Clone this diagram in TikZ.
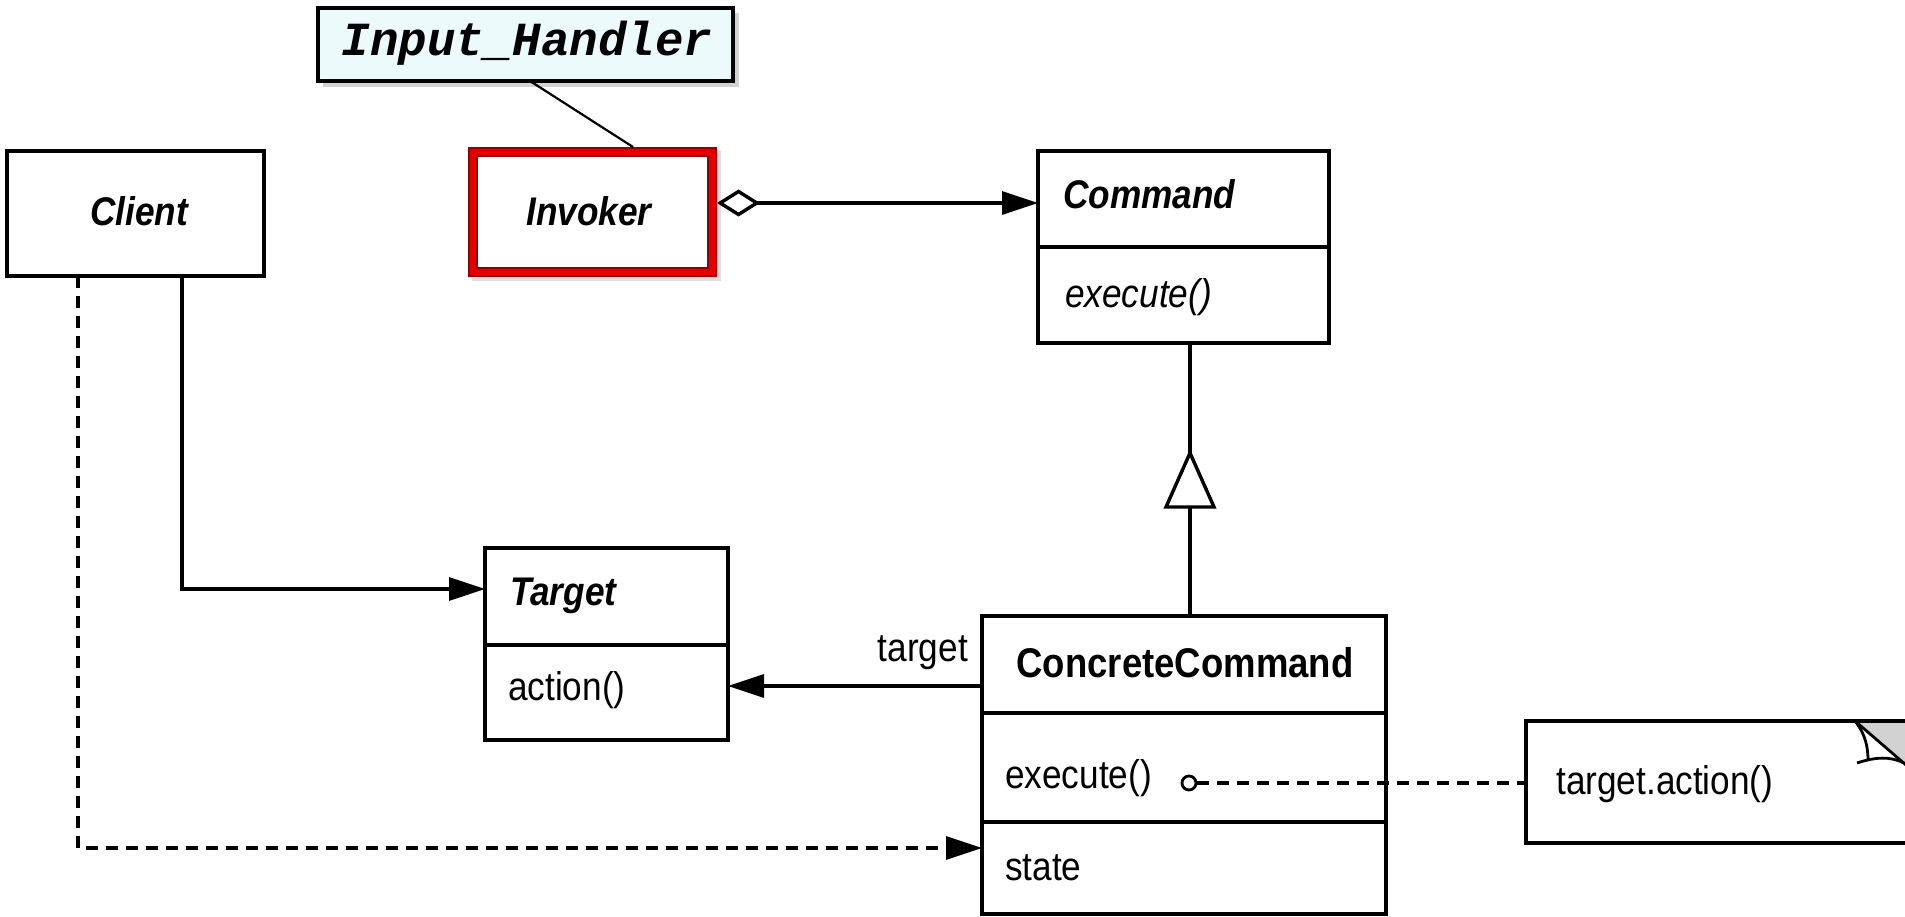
\documentclass[tikz,border=0pt]{standalone}
\usepackage{fontspec}
\newfontfamily\umlfont{Liberation Sans}[FakeStretch=0.88]
\newfontfamily\codefont{Liberation Mono}
\usetikzlibrary{arrows.meta,calc}
\definecolor{notefill}{RGB}{236,250,252}
\definecolor{invred}{RGB}{228,0,0}
\definecolor{invdark}{RGB}{150,0,0}
\definecolor{foldgray}{RGB}{210,210,210}

\begin{document}
\begin{tikzpicture}[x=1pt,y=-1pt,
  umlbox/.style={draw, line width=3.6pt, inner sep=0pt, outer sep=0pt, anchor=north west, fill=white},
  title/.style={font=\umlfont\bfseries\itshape\fontsize{40}{48}\selectfont, inner sep=0pt},
  member/.style={font=\umlfont\fontsize{40}{48}\selectfont, inner sep=0pt, anchor=base west},
  conn/.style={line width=3.4pt},
  tip/.style={-{Triangle[length=36pt,width=23pt]}},
  dashedconn/.style={line width=3.4pt, dash pattern=on 12pt off 8pt},
  divider/.style={line width=3.6pt},
]
\useasboundingbox (0,0) rectangle (1905,917);
\clip (0,0) rectangle (1905,917);

% ---- classes ----
\node[umlbox, minimum width=257pt, minimum height=125pt] (client) at (7,151) {};
\node[title, anchor=base] (clientname) at (139,226) {Client};

% Invoker: heavy red frame with darker rims and a soft shadow
\fill[black!25, opacity=0.5] (472,151) rectangle (721,281);
\node[draw=invred, line width=10pt, inner sep=0pt, outer sep=0pt, anchor=north west,
      fill=white, minimum width=239pt, minimum height=120pt] (inv) at (473,152) {};
\draw[invdark, line width=2pt] ($(inv.north west)+(-4,-4)$) rectangle ($(inv.south east)+(4,4)$);
\draw[invdark, line width=2pt] ($(inv.north west)+(4,4)$) rectangle ($(inv.south east)+(-4,-4)$);
\node[title, anchor=base] (invname) at (589,226) {Invoker};

\node[umlbox, minimum width=291pt, minimum height=192pt] (cmd) at (1038,151) {};
\draw[divider] (cmd.west |- 0,247) -- (cmd.east |- 0,247);
\node[title, anchor=base west] (cmdname) at (1063,209) {Command};
\node[member, font=\umlfont\itshape\fontsize{40}{48}\selectfont] (cmdexec) at (1065,307) {execute()};

\node[umlbox, minimum width=243pt, minimum height=192pt] (tgt) at (485,548) {};
\draw[divider] (tgt.west |- 0,645) -- (tgt.east |- 0,645);
\node[title, anchor=base west] (tgtname) at (510,605) {Target};
\node[member] (tgtaction) at (508,700) {action()};

\node[umlbox, minimum width=404pt, minimum height=298pt] (cc) at (982,616) {};
\draw[divider] (cc.west |- 0,713) -- (cc.east |- 0,713);
\draw[divider] (cc.west |- 0,822) -- (cc.east |- 0,822);
\node[font=\umlfont\bfseries\fontsize{41.5}{48}\selectfont, inner sep=0pt, anchor=base] (ccname) at (1185,677) {ConcreteCommand};
\node[member] (ccexec) at (1005,788) {execute()};
\node[member] (ccstate) at (1005,880) {state};

% ---- note with folded corner ----
\node[umlbox, minimum width=420pt, minimum height=122pt] (note) at (1526,721) {};
\fill[foldgray] (1855,721) -- (1910,721) -- (1910,766) -- cycle;
\draw[line width=3.6pt] (note.north west) -- (1910,721);
\fill[white] (1855,722) .. controls (1866,735) and (1868,748) .. (1868,761)
  .. controls (1880,757) and (1892,757) .. (1903,762) -- cycle;
\draw[line width=2.8pt] (1855,721) .. controls (1866,735) and (1868,748) .. (1868,761);
\draw[line width=2.8pt] (1857,763) .. controls (1875,757) and (1890,756) .. (1904,763);
\draw[line width=2.8pt] (1855,721) -- (1906,765);
\node[member] (notetext) at (1556,794) {target.action()};

% ---- Input_Handler callout ----
\fill[black!35, opacity=0.5] (323,13) rectangle (739,87);
\node[draw, line width=3.2pt, fill=notefill, inner sep=0pt, outer sep=0pt, anchor=north west,
      minimum width=415pt, minimum height=73pt] (ih) at (318,8) {};
\node[font=\codefont\bfseries\itshape\fontsize{47.5}{52}\selectfont, inner sep=0pt, anchor=base] (ihtext) at (527,56) {Input\_Handler};
\draw[line width=2.2pt] ($(ih.south west)+(212,0)$) -- ($(inv.north west)+(160,-5)$);

% ---- connectors ----
\coordinate (aggref) at ($(inv.east)+(5,-9)$);
\draw[conn, {Diamond[open,length=43pt,width=27pt]}-{Triangle[length=36pt,width=23pt]}]
  (aggref) -- (cmd.west |- aggref);

\coordinate (genx) at (1190,0);
\draw[conn] (cc.north -| genx) -- (cmd.south -| genx);
\draw[conn, fill=white] ($(cmd.south -| genx)+(0,110)$) -- ++(24,54) -- ++(-48,0) -- cycle;

\coordinate (tgtref) at (0,686);
\draw[conn, tip] (cc.west |- tgtref) -- (tgt.east |- tgtref);
\node[member, anchor=base east] (tgtlabel) at (968,661) {target};

\coordinate (solidturn) at (182,589);
\draw[conn, tip] (client.south -| solidturn) |- (tgt.west |- solidturn);

\coordinate (dashturn) at (78,848);
\draw[dashedconn, tip] (client.south -| dashturn) |- (cc.west |- dashturn);

\node[draw, circle, line width=2.8pt, fill=white, inner sep=0pt, minimum size=14pt] (circ) at (1189,783) {};
\draw[dashedconn] (circ.east) -- (note.west |- circ.east);
\end{tikzpicture}
\end{document}
